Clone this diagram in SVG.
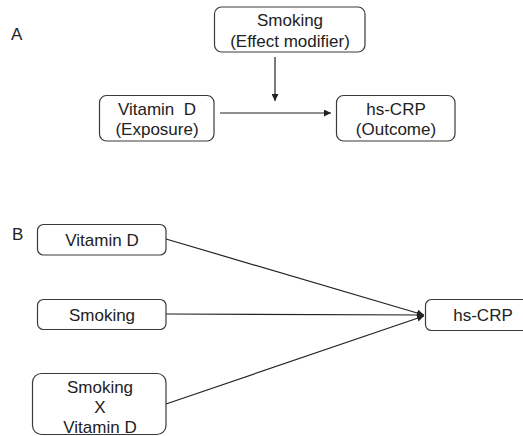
<svg xmlns="http://www.w3.org/2000/svg" width="523" height="436" viewBox="0 0 523 436">
<defs>
<style>
.box{fill:#fff;stroke:#3a3a3a;stroke-width:1.2}
.t{font-family:"Liberation Sans",Arial,sans-serif;font-size:17px;fill:#222;text-anchor:middle}
.lbl{font-family:"Liberation Sans",Arial,sans-serif;font-size:17px;fill:#222}
.ln{stroke:#222;stroke-width:1.2;fill:none}
</style>
<marker id="ah" viewBox="0 0 10 10" refX="10" refY="5" markerWidth="7" markerHeight="7" markerUnits="userSpaceOnUse" orient="auto">
<path d="M0,0 L10,5 L0,10 z" fill="#222"/>
</marker>
</defs>
<rect width="523" height="436" fill="#fff"/>
<text class="lbl" x="11" y="40">A</text>
<text class="lbl" x="12" y="240">B</text>
<g id="connectors">
<line class="ln" x1="275" y1="57" x2="275" y2="101" marker-end="url(#ah)"/>
<line class="ln" x1="220" y1="113" x2="331" y2="113" marker-end="url(#ah)"/>
<line class="ln" x1="166" y1="239" x2="424" y2="315" marker-end="url(#ah)"/>
<line class="ln" x1="166" y1="314" x2="424" y2="315" marker-end="url(#ah)"/>
<line class="ln" x1="166" y1="404" x2="424" y2="316" marker-end="url(#ah)"/>
</g>
<g id="a-smoking">
<rect class="box" x="214.5" y="7" width="150.5" height="45" rx="7"/>
<text class="t" x="290" y="26">Smoking</text>
<text class="t" x="290" y="47">(Effect modifier)</text>
</g>
<g id="a-vitamind">
<rect class="box" x="99.5" y="95.5" width="114.5" height="45.5" rx="7"/>
<text class="t" x="157" y="115" xml:space="preserve">Vitamin  D</text>
<text class="t" x="157" y="135">(Exposure)</text>
</g>
<g id="a-hscrp">
<rect class="box" x="336.5" y="95.5" width="118.5" height="45.5" rx="7"/>
<text class="t" x="396" y="115">hs-CRP</text>
<text class="t" x="396" y="135">(Outcome)</text>
</g>
<g id="b-vitamind">
<rect class="box" x="37.5" y="224.5" width="128.5" height="30.5" rx="6"/>
<text class="t" x="102" y="246">Vitamin D</text>
</g>
<g id="b-smoking">
<rect class="box" x="37.5" y="299.5" width="128.5" height="30" rx="6"/>
<text class="t" x="102" y="321">Smoking</text>
</g>
<g id="b-interaction">
<rect class="box" x="32.5" y="373.5" width="133.5" height="61" rx="9"/>
<text class="t" x="100" y="393">Smoking</text>
<text class="t" x="100" y="413">X</text>
<text class="t" x="100" y="433">Vitamin D</text>
</g>
<g id="b-hscrp">
<rect class="box" x="425.5" y="299.5" width="110" height="31" rx="6"/>
<text class="t" x="483" y="321">hs-CRP</text>
</g>
</svg>
